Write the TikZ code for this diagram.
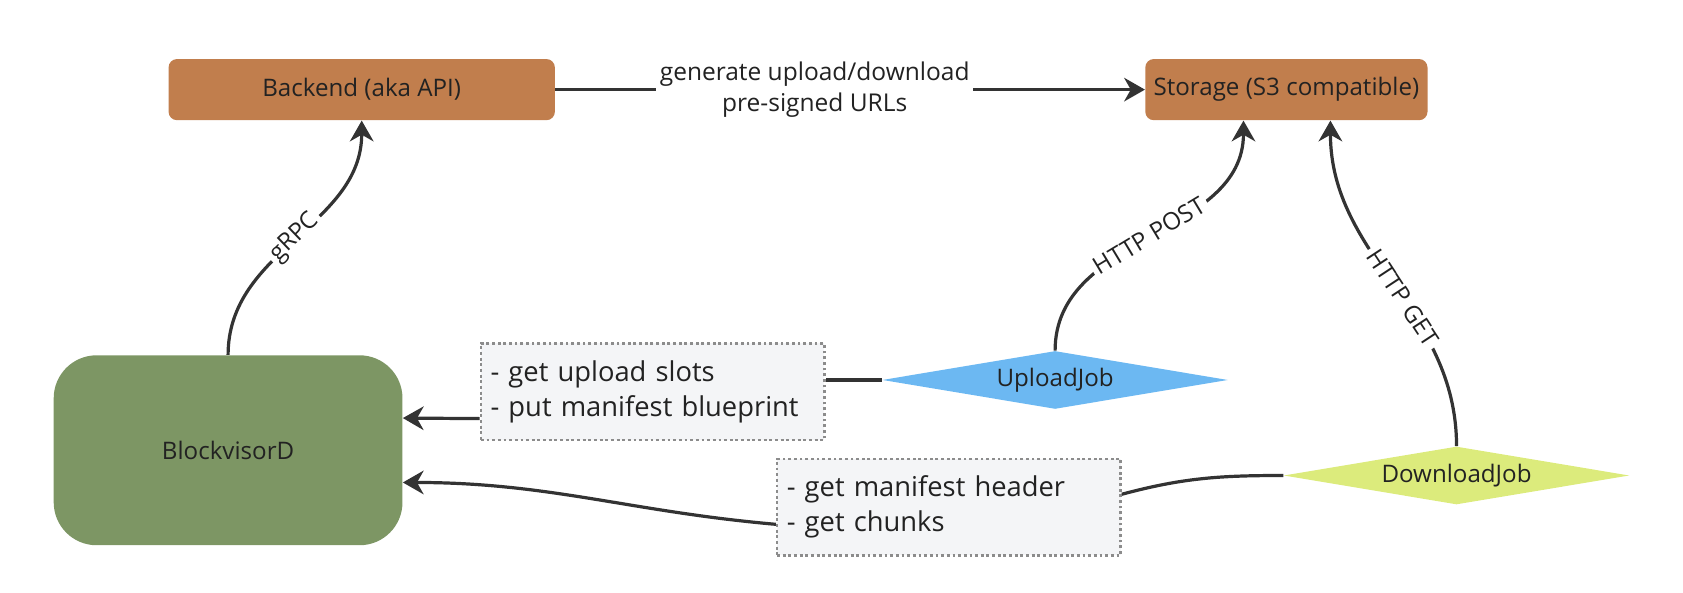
\documentclass[tikz,border=0pt]{standalone}
\usepackage{fontspec}
\setmainfont{Open Sans}
\usetikzlibrary{arrows.meta,shapes.geometric,calc}
\definecolor{servicebrown}{HTML}{C17E4D}
\definecolor{daemongreen}{HTML}{7D9664}
\definecolor{uploadblue}{HTML}{6CB8F2}
\definecolor{downloadlime}{HTML}{DCEB7C}
\definecolor{notefill}{HTML}{F4F5F7}
\definecolor{notedots}{HTML}{8C8C8C}
\definecolor{linedark}{HTML}{333333}
\definecolor{textdark}{HTML}{222222}
\tikzset{
  service/.style={fill=servicebrown, rounded corners=4.5pt, minimum height=1.14cm, inner sep=0pt},
  job/.style={diamond, aspect=6, minimum width=6.44cm, minimum height=1.08cm, inner sep=0pt},
  note/.style={draw=notedots, fill=notefill, line width=1.3pt, dash pattern=on 1.5pt off 1.5pt,
    text width=6.04cm, inner xsep=0.18cm, minimum height=1.8cm, align=left,
    font=\fontsize{14.5}{18.5}\selectfont},
  flow/.style={draw=linedark, line width=1.7pt, -{Stealth[length=11pt, width=12.5pt, inset=3.5pt]}},
  wire/.style={draw=linedark, line width=1.7pt},
  onwire/.style={fill=white, inner sep=2pt, text=textdark}
}
\begin{document}
\begin{tikzpicture}[x=0.02cm, y=0.02cm, every node/.style={text=textdark, font=\fontsize{12.8}{15}\selectfont}]
\useasboundingbox (0,0) rectangle (1568,552);
% boxes
\node[service, minimum width=7.2cm] (backend) at (337,468.5) {Backend (aka API)};
\node[service, minimum width=5.26cm] (storage) at (1198.5,468.5) {Storage (S3 compatible)};
\node[fill=daemongreen, rounded corners=0.8cm, minimum width=6.5cm, minimum height=3.54cm] (blockvisord) at (212.5,132.5) {BlockvisorD};
\node[job, fill=uploadblue] (uploadjob) at (983,198) {UploadJob};
\node[job, fill=downloadlime] (downloadjob) at (1357,109) {DownloadJob};
\node[note] (uploadnote) at (608,187) {- get upload slots\\- put manifest blueprint};
\node[note] (downloadnote) at (884,79.5) {- get manifest header\\- get chunks};
% connectors
\draw[flow] (backend.east) -- node[pos=0.44, onwire, align=center, font=\fontsize{13}{16.5}\selectfont] {generate upload/download\\pre-signed URLs} (storage.west);
\draw[flow] (blockvisord.north) to[out=90, in=-90] node[sloped, onwire] {gRPC} (backend.south);
\draw[flow] (uploadjob.north) to[out=90, in=-90] node[sloped, onwire] {HTTP POST} ($(storage.south)+(-40,0)$);
\draw[flow] (downloadjob.north) to[out=90, in=-90] node[sloped, onwire, pos=0.45] {HTTP GET} ($(storage.south)+(41,0)$);
\draw[wire] (uploadjob.west) -- (uploadjob.west -| uploadnote.east);
\draw[flow] ($(uploadnote.west)+(0,-25)$) -- ($(blockvisord.east)+(0,30)$);
\draw[wire] (downloadjob.west) to[out=180, in=15] ($(downloadnote.east)+(0,12)$);
\draw[flow] ($(downloadnote.west)+(0,-16)$) to[out=175, in=0] ($(blockvisord.east)+(0,-30)$);
\end{tikzpicture}
\end{document}
